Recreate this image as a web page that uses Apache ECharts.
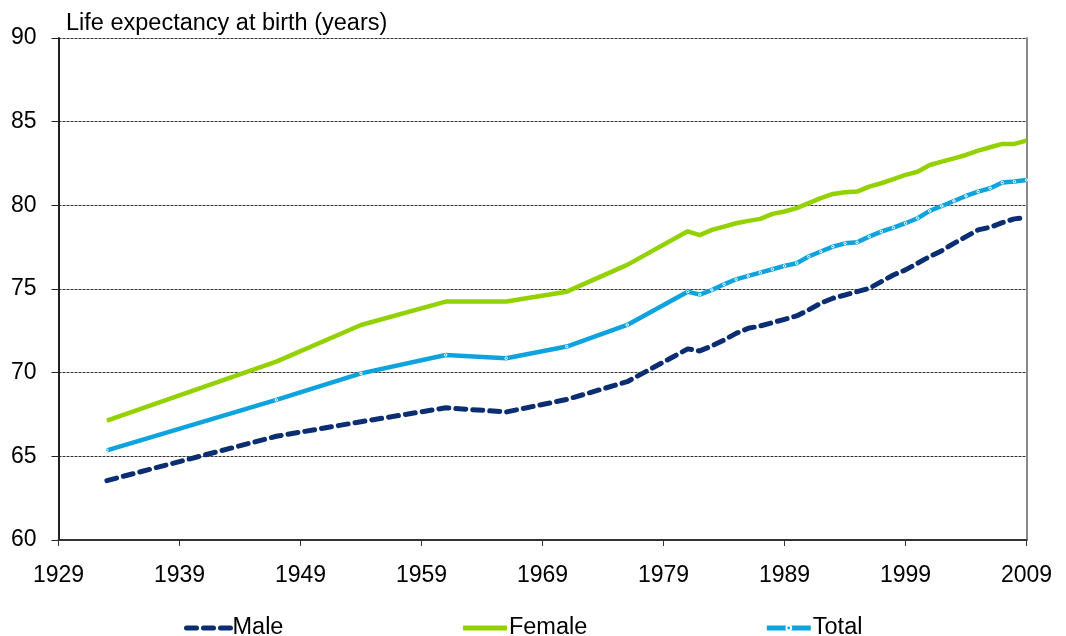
<!DOCTYPE html>
<html>
<head>
<meta charset="utf-8">
<script src="https://cdn.jsdelivr.net/npm/echarts@6/dist/echarts.min.js"></script>
<style>
  html, body { margin: 0; padding: 0; background: #fff; }
  #chart { width: 1066px; height: 636px; }
</style>
</head>
<body>
<div id="chart"></div>
<script>
// years with data (sparse before 1981, yearly after)
var years = [1933, 1947, 1954, 1961, 1966, 1971, 1976, 1981, 1982, 1983, 1984, 1985,
    1986, 1987, 1988, 1989, 1990, 1991, 1992, 1993, 1994, 1995, 1996, 1997, 1998,
    1999, 2000, 2001, 2002, 2003, 2004, 2005, 2006, 2007, 2008, 2009];

var male = [63.55, 66.2, 67.07, 67.9, 67.65, 68.4, 69.46, 71.42, 71.3, 71.6, 71.95, 72.35,
    72.65, 72.79, 72.99, 73.19, 73.39, 73.75, 74.15, 74.45, 74.64, 74.84, 75.04, 75.44, 75.84,
    76.14, 76.54, 76.94, 77.29, 77.73, 78.13, 78.53, 78.69, 78.97, 79.19, 79.27];

var female = [67.13, 70.66, 72.85, 74.25, 74.25, 74.84, 76.44, 78.45, 78.22, 78.53, 78.73, 78.93,
    79.07, 79.19, 79.49, 79.63, 79.83, 80.13, 80.43, 80.68, 80.78, 80.82, 81.12, 81.32, 81.56,
    81.82, 82.01, 82.41, 82.61, 82.81, 83.01, 83.27, 83.47, 83.67, 83.67, 83.87];

var total = [65.36, 68.37, 69.96, 71.06, 70.86, 71.56, 72.85, 74.84, 74.66, 74.94, 75.28, 75.58,
    75.78, 75.98, 76.18, 76.38, 76.54, 76.94, 77.24, 77.53, 77.73, 77.79, 78.13, 78.43, 78.67,
    78.93, 79.23, 79.67, 79.96, 80.26, 80.56, 80.82, 81.02, 81.36, 81.42, 81.52];

var seriesNames = ['Male', 'Female', 'Total'];

function pairs(vals) {
    let out = [];
    years.forEach((y, i) => {
        out.push([y, vals[i]]);
    });
    return out;
}

var chart = echarts.init(document.getElementById('chart'));
var font = 'Liberation Sans, Arial, sans-serif';

var option = {
    backgroundColor: '#fff',
    animation: false,
    title: {
        text: 'Life expectancy at birth (years)',
        left: 61,
        top: 7,
        textStyle: { fontFamily: font, fontSize: 23.5, fontWeight: 'normal', color: '#000' }
    },
    grid: { left: 58.5, right: 39.5, top: 38, bottom: 96 },
    legend: {
        data: [
            { name: seriesNames[0], itemStyle: { opacity: 0 } },
            { name: seriesNames[1], itemStyle: { opacity: 0 } },
            { name: seriesNames[2] }
        ],
        left: 179,
        top: 611,
        itemWidth: 44,
        itemHeight: 6,
        itemGap: 177,
        lineStyle: { width: 5 },
        textStyle: { fontFamily: font, fontSize: 23.5, color: '#000', padding: [0, 0, 0, -3] }
    },
    xAxis: {
        type: 'value',
        min: 1929,
        max: 2009,
        interval: 10,
        axisLine: { lineStyle: { color: '#333', width: 2 } },
        axisTick: { show: true, length: 6, lineStyle: { color: '#333', width: 1 } },
        axisLabel: {
            fontFamily: font, fontSize: 23, color: '#000', margin: 24,
            formatter: function (v) { return String(v); }
        },
        splitLine: { show: false }
    },
    yAxis: [{
        type: 'value',
        min: 60,
        max: 90,
        interval: 5,
        axisLine: { show: true, lineStyle: { color: '#222', width: 2 } },
        axisTick: { show: true, length: 7, lineStyle: { color: '#222', width: 1 } },
        axisLabel: { fontFamily: font, fontSize: 23, color: '#000', margin: 22 },
        splitLine: { show: true, lineStyle: { color: '#333', width: 1, type: [3, 1] } }
    }, {
        type: 'value',
        position: 'right',
        min: 60,
        max: 90,
        axisLine: { show: true, lineStyle: { color: '#8a8a8a', width: 2 } },
        axisTick: { show: false },
        axisLabel: { show: false },
        splitLine: { show: false }
    }],
    series: [
        {
            name: 'Male',
            type: 'line',
            data: pairs(male),
            symbol: 'none',
            color: '#0B2D72',
            lineStyle: { color: '#0B2D72', width: 5, type: [10, 7], cap: 'round' },
            z: 3
        },
        {
            name: 'Female',
            type: 'line',
            data: pairs(female),
            symbol: 'none',
            color: '#94D100',
            lineStyle: { color: '#94D100', width: 4.5 },
            z: 3
        },
        {
            name: 'Total',
            type: 'line',
            data: pairs(total),
            symbol: 'circle',
            symbolSize: 2.5,
            color: '#0EA3DE',
            itemStyle: { color: '#0EA3DE', borderColor: '#fff', borderWidth: 1 },
            lineStyle: { color: '#0EA3DE', width: 4.5 },
            z: 4
        }
    ]
};
chart.setOption(option);
</script>
</body>
</html>
